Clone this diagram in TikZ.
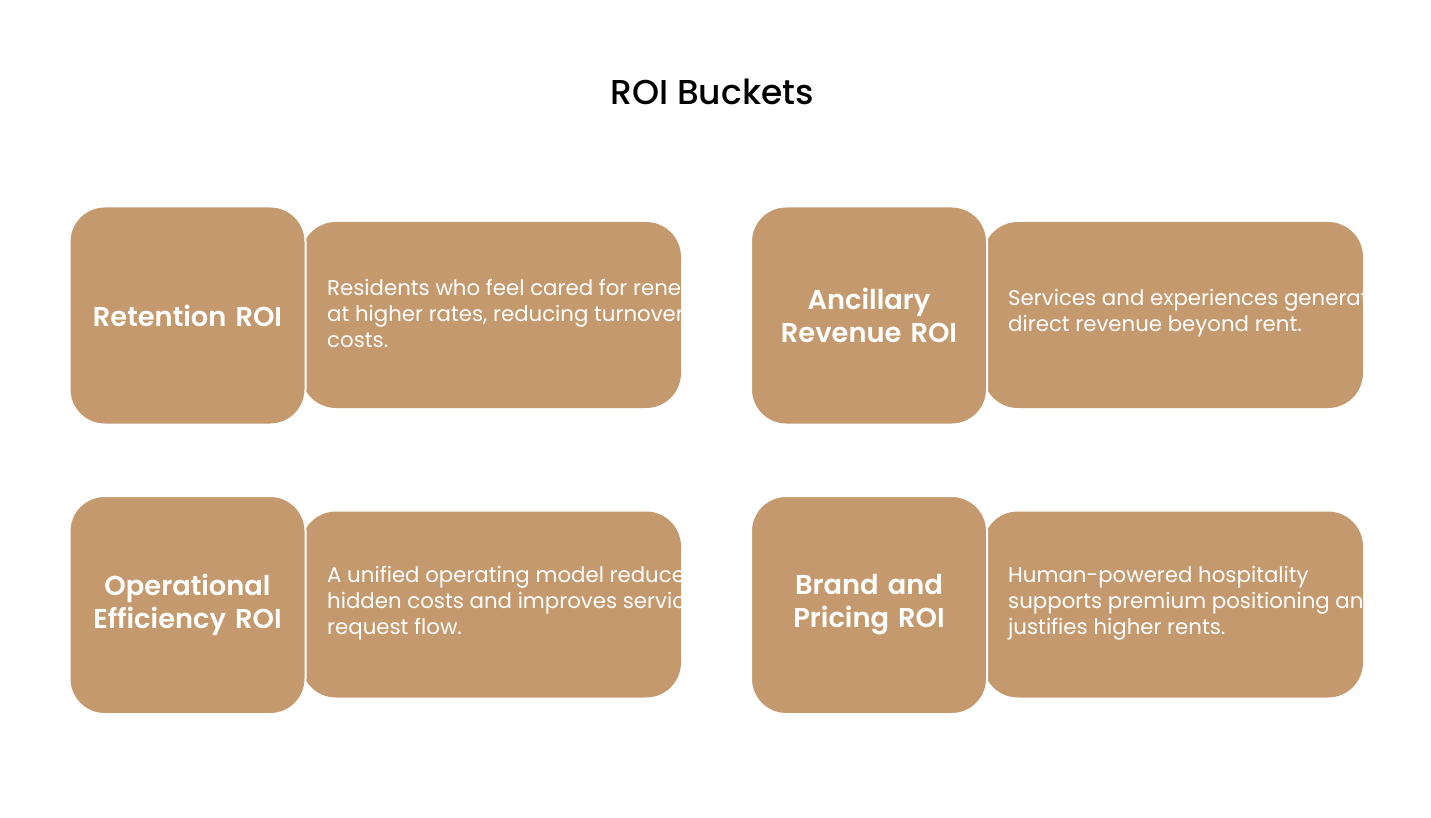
\documentclass[tikz,border=0pt]{standalone}
\usepackage{fontspec}
\setmainfont{Poppins}
\IfFontExistsTF{Poppins SemiBold}{\newfontfamily\labelfont{Poppins SemiBold}}{\newfontfamily\labelfont[FakeBold=1.3]{Poppins}}
\IfFontExistsTF{Poppins Medium}{\newfontfamily\titlefont{Poppins Medium}}{\newfontfamily\titlefont[FakeBold=0.8]{Poppins}}
\usepackage{xcolor}
\definecolor{Tan}{HTML}{C4996D}
\usetikzlibrary{positioning}

\tikzset{
  bucket/.style={rectangle, rounded corners=35pt, fill=Tan, draw=white, line width=2pt,
    minimum width=236pt, minimum height=218pt, inner sep=0pt, text=white, align=center,
    text width=210pt, font=\labelfont\fontsize{27.3}{33}\selectfont},
  detail/.style={rectangle, rounded corners=35pt, fill=Tan, minimum width=380pt,
    minimum height=186pt, inner sep=0pt},
  blurb/.style={anchor=west, inner sep=0pt, text=white, align=left,
    font=\fontsize{21.3}{26}\selectfont}
}

\begin{document}
\begin{tikzpicture}[x=1pt, y=-1pt]
    \useasboundingbox (0,0) rectangle (1431,818);
    \node[font=\titlefont\fontsize{34.5}{40}\selectfont] (title) at (712,92) {ROI Buckets};

    % details behind the squares
    \node[detail] (retbox) at (491,315) {};
    \node[detail] (ancbox) at (1173,315) {};
    \node[detail] (opsbox) at (491,604.5) {};
    \node[detail] (brabox) at (1173,604.5) {};

    \node[bucket] (ret) at (187.5,315.5) {Retention ROI};
    \node[bucket] (anc) at (869,315.5) {Ancillary\\Revenue ROI};
    \node[bucket] (ops) at (187.5,605) {Operational\\Efficiency ROI};
    \node[bucket] (bra) at (869,605) {Brand and\\Pricing ROI};

    % text runs past the right edge and is cut off there
    \begin{scope}
    \clip (ret.east |- retbox.north) rectangle (retbox.south east);
    \node[blurb] (rettext) at (327,313.5) {Residents who feel cared for renew\\at higher rates, reducing turnover\\costs.};
    \end{scope}
    \begin{scope}
    \clip (anc.east |- ancbox.north) rectangle (ancbox.south east);
    \node[blurb] (anctext) at (1008,313.5) {Services and experiences generate\\direct revenue beyond rent.};
    \end{scope}
    \begin{scope}
    \clip (ops.east |- opsbox.north) rectangle (opsbox.south east);
    \node[blurb] (opstext) at (327,603.5) {A unified operating model reduces\\hidden costs and improves service\\request flow.};
    \end{scope}
    \begin{scope}
    \clip (bra.east |- brabox.north) rectangle (brabox.south east);
    \node[blurb] (bratext) at (1008,603.5) {Human-powered hospitality\\supports premium positioning and\\justifies higher rents.};
    \end{scope}
\end{tikzpicture}
\end{document}
